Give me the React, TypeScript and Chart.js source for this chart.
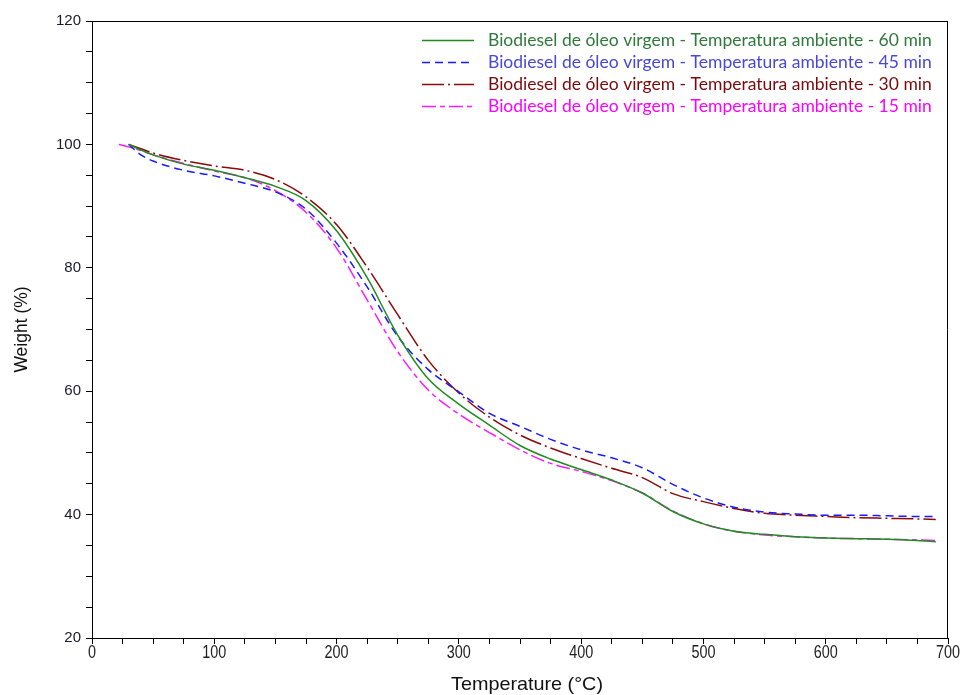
import React, { useEffect, useRef } from "react";
import { Chart, registerables } from "chart.js";

Chart.register(...registerables);

const TEMPS = [30, 40, 50, 75, 100, 125, 150, 175, 200, 225, 250, 275, 300, 325, 350, 375, 400, 425, 450, 475, 500, 525, 550, 575, 600, 625, 650, 675, 690];
const TEMPS_15 = [22, 30, 40, 50, 75, 100, 125, 150, 175, 200, 225, 250, 275, 300, 325, 350, 375, 400, 425, 450, 475, 500, 525, 550, 575, 600, 625, 650, 675, 690];

const W_60 = [100, 99.1, 98.3, 96.8, 95.8, 94.6, 93.2, 90.9, 86.0, 78.4, 69.1, 62.0, 57.9, 54.5, 51.2, 49.0, 47.3, 45.6, 43.5, 40.5, 38.5, 37.3, 36.8, 36.4, 36.2, 36.1, 36.0, 35.8, 35.6];
const W_45 = [100, 98.3, 97.3, 95.8, 94.9, 93.7, 92.3, 89.5, 84.0, 76.9, 68.9, 63.5, 59.9, 56.4, 54.3, 52.2, 50.5, 49.2, 47.6, 44.9, 42.7, 41.2, 40.4, 40.1, 39.9, 39.9, 39.8, 39.7, 39.7];
const W_30 = [100, 99.3, 98.6, 97.4, 96.5, 95.8, 94.3, 91.5, 87.0, 80.1, 72.4, 65.0, 59.7, 55.8, 52.9, 50.8, 49.1, 47.5, 46.0, 43.4, 42.1, 41.0, 40.2, 39.9, 39.7, 39.5, 39.4, 39.3, 39.2];
const W_15 = [100, 99.6, 99.0, 98.3, 96.9, 95.7, 94.6, 92.5, 89.0, 83.2, 74.8, 66.4, 60.2, 56.3, 53.3, 50.5, 48.3, 47.0, 45.5, 43.5, 40.6, 38.5, 37.3, 36.7, 36.4, 36.2, 36.1, 36.0, 35.9, 35.8];

const X_TICK_LABELS = [0, 100, 200, 300, 400, 500, 600, 700];
const X_TITLE = "Temperature (°C)";
const Y_TITLE = "Weight (%)";

const LABELS = [
  "Biodiesel de óleo virgem - Temperatura ambiente - 60 min",
  "Biodiesel de óleo virgem - Temperatura ambiente - 45 min",
  "Biodiesel de óleo virgem - Temperatura ambiente - 30 min",
  "Biodiesel de óleo virgem - Temperatura ambiente - 15 min",
];

const LINE_COLORS = ["#1e8c1e", "#1a1aff", "#8b0a0a", "#ff1aff"];
const TEXT_COLORS = ["#2f7a3a", "#4848d8", "#7a0a0a", "#ff00ff"];
const DASHES: number[][] = [[], [8, 5], [22, 4, 2, 4], [14, 4, 5, 4]];

const AX_FONT = "'Liberation Sans', Arial, sans-serif";
const LEGEND_FONT = "Lato, 'Open Sans', sans-serif";

const toPoints = (xs: number[], ys: number[]) => xs.map((x, i) => ({ x, y: ys[i] }));

const boxAndLegend = {
  id: "boxAndLegend",
  afterDraw(chart: any) {
    const { ctx, chartArea } = chart;
    ctx.save();
    ctx.strokeStyle = "#000";
    ctx.lineWidth = 1;
    ctx.beginPath();
    ctx.moveTo(chartArea.left, chartArea.top + 0.5);
    ctx.lineTo(chartArea.right, chartArea.top + 0.5);
    ctx.moveTo(chartArea.right - 0.5, chartArea.top);
    ctx.lineTo(chartArea.right - 0.5, chartArea.bottom);
    ctx.stroke();

    // x tick labels (tall, narrow look of the original)
    const xs = chart.scales.x;
    ctx.fillStyle = "#222";
    ctx.font = `18px ${AX_FONT}`;
    ctx.textAlign = "center";
    ctx.textBaseline = "middle";
    X_TICK_LABELS.forEach((v) => {
      const px = xs.getPixelForValue(v);
      ctx.save();
      ctx.translate(px, 653);
      ctx.scale(0.8, 1);
      ctx.fillText(String(v), 0, 0);
      ctx.restore();
    });

    // x title
    ctx.fillStyle = "#111";
    ctx.font = `19px ${AX_FONT}`;
    const tw = ctx.measureText(X_TITLE).width;
    ctx.save();
    ctx.translate(527, 685);
    ctx.scale(152 / tw, 1);
    ctx.fillText(X_TITLE, 0, 0);
    ctx.restore();

    // y title
    ctx.font = `17.5px ${AX_FONT}`;
    ctx.save();
    ctx.translate(22, (chartArea.top + chartArea.bottom) / 2);
    ctx.rotate(-Math.PI / 2);
    ctx.fillText(Y_TITLE, 0, 0);
    ctx.restore();

    const targetWidth = 444;
    ctx.font = `15px ${LEGEND_FONT}`;
    const w = ctx.measureText(LABELS[0]).width;
    const size = (15 * targetWidth) / w;
    ctx.font = `${size}px ${LEGEND_FONT}`;
    ctx.textBaseline = "middle";
    ctx.textAlign = "left";
    LABELS.forEach((lab, i) => {
      const y = 40 + i * 22;
      ctx.strokeStyle = LINE_COLORS[i];
      ctx.lineWidth = 1.5;
      ctx.setLineDash(DASHES[i]);
      ctx.beginPath();
      ctx.moveTo(422, y + 0.5);
      ctx.lineTo(474, y + 0.5);
      ctx.stroke();
      ctx.setLineDash([]);
      ctx.fillStyle = TEXT_COLORS[i];
      ctx.fillText(lab, 488, y);
    });
    ctx.restore();
  },
};

export default function App() {
  const ref = useRef<HTMLCanvasElement | null>(null);

  useEffect(() => {
    document.body.style.margin = "0";
    const canvas = ref.current;
    if (!canvas) return;
    const series = [
      toPoints(TEMPS, W_60),
      toPoints(TEMPS, W_45),
      toPoints(TEMPS, W_30),
      toPoints(TEMPS_15, W_15),
    ];
    const chart = new Chart(canvas, {
      type: "line",
      data: {
        datasets: series.map((d, i) => ({
          label: LABELS[i],
          data: d,
          borderColor: LINE_COLORS[i],
          backgroundColor: LINE_COLORS[i],
          borderWidth: 1.5,
          borderDash: DASHES[i],
          pointRadius: 0,
          cubicInterpolationMode: "monotone" as const,
          fill: false,
        })),
      },
      options: {
        animation: false,
        responsive: false,
        maintainAspectRatio: false,
        layout: { padding: { top: 21, right: 16, left: 0, bottom: 0 } },
        plugins: { legend: { display: false }, tooltip: { enabled: false } },
        scales: {
          x: {
            type: "linear",
            min: 0,
            max: 700,
            afterFit: (s: any) => { s.height = 57; },
            border: { display: true, color: "#000", width: 1 },
            grid: { drawOnChartArea: false, drawTicks: true, tickLength: 6, color: "#000" },
            ticks: {
              display: false,
              stepSize: 25,
              autoSkip: false,
              maxRotation: 0,
            },
            title: { display: false },
          },
          y: {
            type: "linear",
            min: 20,
            max: 120,
            afterFit: (s: any) => { s.width = 92; },
            border: { display: true, color: "#000", width: 1 },
            grid: { drawOnChartArea: false, drawTicks: true, tickLength: 6, color: "#000" },
            ticks: {
              stepSize: 5,
              autoSkip: false,
              padding: 5,
              color: "#1a1a2a",
              font: { family: AX_FONT, size: 15 },
              callback: (v: any) => (Number(v) % 20 === 0 ? String(v) : ""),
            },
            title: { display: false },
          },
        },
      },
      plugins: [boxAndLegend],
    });
    return () => chart.destroy();
  }, []);

  return <canvas ref={ref} width={964} height={695} style={{ display: "block" }} />;
}
